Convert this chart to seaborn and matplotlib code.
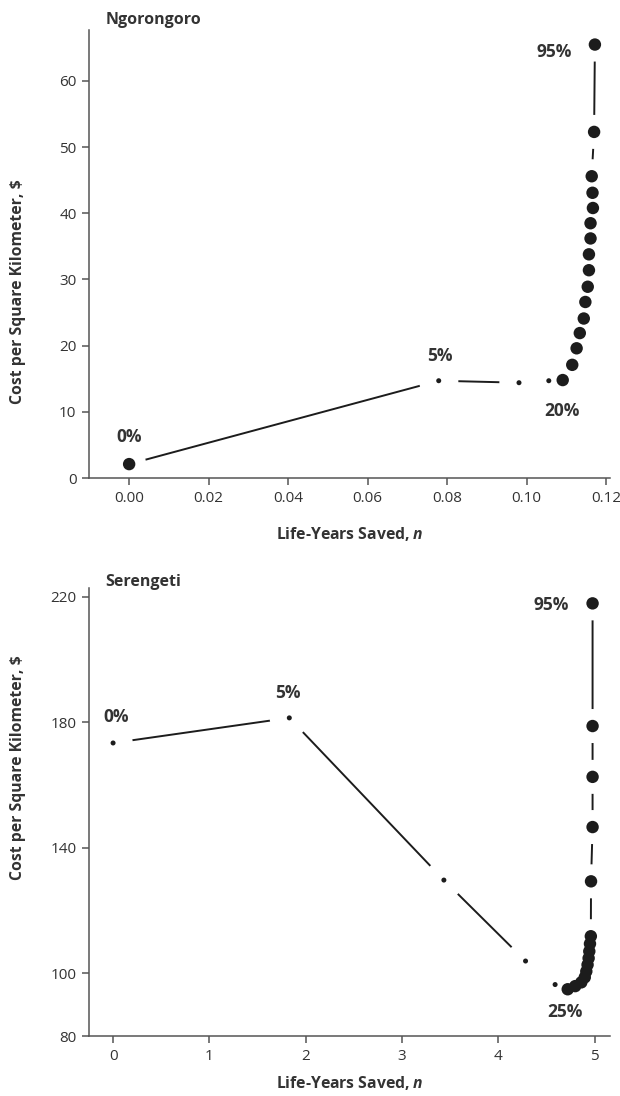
import matplotlib
matplotlib.use("Agg")
import matplotlib.pyplot as plt
import seaborn as sns
import pandas as pd

# ---------------- data ----------------
pct_labels = ["0%", "5%", "10%", "15%", "20%", "25%", "30%", "35%", "40%", "45%",
              "50%", "55%", "60%", "65%", "70%", "75%", "80%", "85%", "90%", "95%"]

ngor_x = [0.000, 0.0779, 0.0981, 0.1056, 0.1091, 0.1115, 0.1126, 0.1134, 0.1144, 0.1148,
          0.1154, 0.1157, 0.1157, 0.1161, 0.1161, 0.1167, 0.1166, 0.1164, 0.1170, 0.1172]
ngor_y = [2.1, 14.7, 14.4, 14.7, 14.8, 17.1, 19.6, 21.9, 24.1, 26.6,
          28.9, 31.4, 33.8, 36.2, 38.5, 40.8, 43.1, 45.6, 52.3, 65.5]
ngor_dot = ["large", "small", "small", "small"] + ["large"] * 16

seren_x = [0.00, 1.83, 3.435, 4.283, 4.59, 4.721, 4.799, 4.862, 4.898, 4.914,
           4.927, 4.938, 4.945, 4.952, 4.961, 4.963, 4.979, 4.979, 4.979, 4.979]
seren_y = [173.4, 181.4, 129.7, 103.9, 96.4, 94.9, 95.9, 97.1, 98.7, 100.6,
           102.7, 104.8, 107.0, 109.4, 111.8, 129.3, 146.6, 162.6, 178.8, 217.9]
seren_dot = ["small"] * 5 + ["large"] * 15

ngor_ticks_x = [0.00, 0.02, 0.04, 0.06, 0.08, 0.10, 0.12]
ngor_ticks_y = [0, 10, 20, 30, 40, 50, 60]
seren_ticks_x = [0, 1, 2, 3, 4, 5]
seren_ticks_y = [80, 100, 140, 180, 220]

ngor_shown = ["0%", "5%", "20%", "95%"]
seren_shown = ["0%", "5%", "25%", "95%"]

# ---------------- style ----------------
sns.set_theme(style="ticks")
plt.rcParams["font.family"] = ["Open Sans", "DejaVu Sans"]
plt.rcParams["mathtext.fontset"] = "custom"
plt.rcParams["mathtext.bfit"] = "Open Sans:italic:bold"
plt.rcParams["mathtext.it"] = "Open Sans:italic"

DARK = "#1c1c1c"
AX = "#555555"
TXT = "#333333"

fig = plt.figure(figsize=(6.2, 10.96), dpi=100)
ax1 = fig.add_axes([89 / 620, 1 - 478 / 1096, 521 / 620, 448 / 1096])
ax2 = fig.add_axes([89 / 620, 1 - 1036 / 1096, 521 / 620, 448 / 1096])


def draw(ax, xs, ys, dots, shown, offsets, title, xlim, ylim, xt, yt, xfmt,
         ylab_y, xlab_y, title_y):
    df = pd.DataFrame({"x": xs, "y": ys, "dot": dots, "pct": pct_labels})
    sns.lineplot(data=df, x="x", y="y", sort=False, estimator=None, ax=ax,
                 color=DARK, linewidth=1.4, zorder=2)
    # white halos that open gaps in the line around each dot
    sns.scatterplot(data=df, x="x", y="y", size="dot",
                    sizes={"large": 600, "small": 800}, ax=ax, color="white",
                    linewidth=0, zorder=3, legend=False)
    sns.scatterplot(data=df, x="x", y="y", size="dot",
                    sizes={"large": 80, "small": 13}, ax=ax, color=DARK,
                    linewidth=0, zorder=4, legend=False)
    for lab in shown:
        r = df[df["pct"] == lab].iloc[0]
        ax.annotate(lab, (r["x"], r["y"]), xytext=offsets[lab],
                    textcoords="offset points", ha="center", va="center",
                    fontsize=12.5, fontweight="bold", color=TXT, zorder=6)
    ax.set_xlim(*xlim)
    ax.set_ylim(*ylim)
    ax.set_xticks(xt)
    ax.set_yticks(yt)
    if xfmt:
        ax.set_xticklabels([f"{v:.2f}" for v in xt])
    sns.despine(ax=ax)
    for s in ["left", "bottom"]:
        ax.spines[s].set_color(AX)
        ax.spines[s].set_linewidth(1.1)
        ax.spines[s].set_zorder(10)
    ax.tick_params(axis="both", colors=AX, labelcolor=TXT, labelsize=11,
                   length=5, width=1.1, direction="out", pad=4)
    ax.set_xlabel(r"Life-Years Saved, $\mathbfit{n}$", fontsize=11.3,
                  fontweight="bold", color=TXT)
    ax.set_ylabel("Cost per Square Kilometer, $", fontsize=11.3,
                  fontweight="bold", color=TXT)
    ax.yaxis.set_label_coords(-0.121, ylab_y)
    ax.xaxis.set_label_coords(0.5, xlab_y)
    ax.text(0.032, title_y, title, transform=ax.transAxes, fontsize=11.5,
            fontweight="bold", color=TXT, ha="left", va="center")


draw(ax1, ngor_x, ngor_y, ngor_dot, ngor_shown,
     {"0%": (0, 19.5), "5%": (0.7, 18), "20%": (-0.7, -22.5), "95%": (-29, -5)},
     "Ngorongoro", (-0.0101, 0.121), (0, 67.7), ngor_ticks_x, ngor_ticks_y, True,
     0.417, -0.105, 1.022)

draw(ax2, seren_x, seren_y, seren_dot, seren_shown,
     {"0%": (2.2, 18.7), "5%": (-0.7, 18), "25%": (-1.8, -16.5), "95%": (-30, -1)},
     "Serengeti", (-0.25, 5.16), (80, 222.8), seren_ticks_x, seren_ticks_y, False,
     0.60, -0.085, 1.013)

fig.savefig("out.png", dpi=100)
